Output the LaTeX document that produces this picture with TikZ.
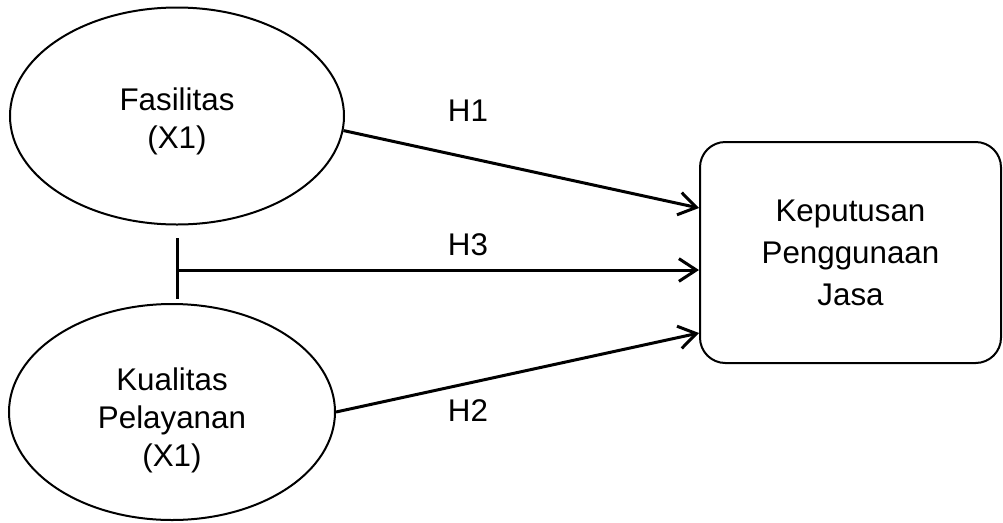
\documentclass[tikz,border=0pt]{standalone}
\usepackage{fontspec}
\setmainfont{Liberation Sans}
\usetikzlibrary{shapes.geometric,arrows.meta}
\begin{document}
\begin{tikzpicture}[x=0.75pt,y=-0.75pt,
  latent/.style={draw,ellipse,line width=1.5pt,inner sep=0pt},
  vartext/.style={align=center,inner sep=0pt,font=\fontsize{23.5}{28.5}\selectfont},
  outcome/.style={draw,rectangle,rounded corners=19pt,line width=1.5pt,inner sep=0pt,
    align=center,font=\fontsize{23.5}{31.5}\selectfont},
  hyp/.style={line width=2.25pt,-{Straight Barb[length=13pt,width=17pt,line width=2.25pt]}},
  hlabel/.style={font=\fontsize{23.5}{28}\selectfont}]
\useasboundingbox (0,0) rectangle (1003,522);

% constructs
\node[latent,minimum width=250.5pt,minimum height=162.75pt] (fas) at (177,116) {};
\node[vartext] (fastext) at (177,121) {Fasilitas\\(X1)};
\node[latent,minimum width=244.5pt,minimum height=162pt] (kual) at (172,412) {};
\node[vartext] (kualtext) at (172,420) {Kualitas\\Pelayanan\\(X1)};
\node[outcome,minimum width=225.75pt,minimum height=165.75pt] (kep) at (850.5,252.5)
  {Keputusan\\Penggunaan\\Jasa};

% arrow ends on the outcome box
\coordinate (in1) at (kep.west |- 0,208);
\coordinate (in3) at (kep.west |- 0,270);
\coordinate (in2) at (kep.west |- 0,333);

% joint bar between the two predictors
\coordinate (bartop) at (177,238);
\coordinate (barbot) at (177,299);
\coordinate (joint) at (177,270);
\draw[line width=2.25pt] (bartop) -- (barbot);

% hypothesised paths
\draw[hyp] (fas.355) -- (in1);
\draw[hyp] (joint) -- (in3);
\draw[hyp] (kual.east) -- (in2);

% path labels
\node[hlabel] (h1) at (468,111) {H1};
\node[hlabel] (h3) at (468,245) {H3};
\node[hlabel] (h2) at (468,411) {H2};
\end{tikzpicture}
\end{document}
